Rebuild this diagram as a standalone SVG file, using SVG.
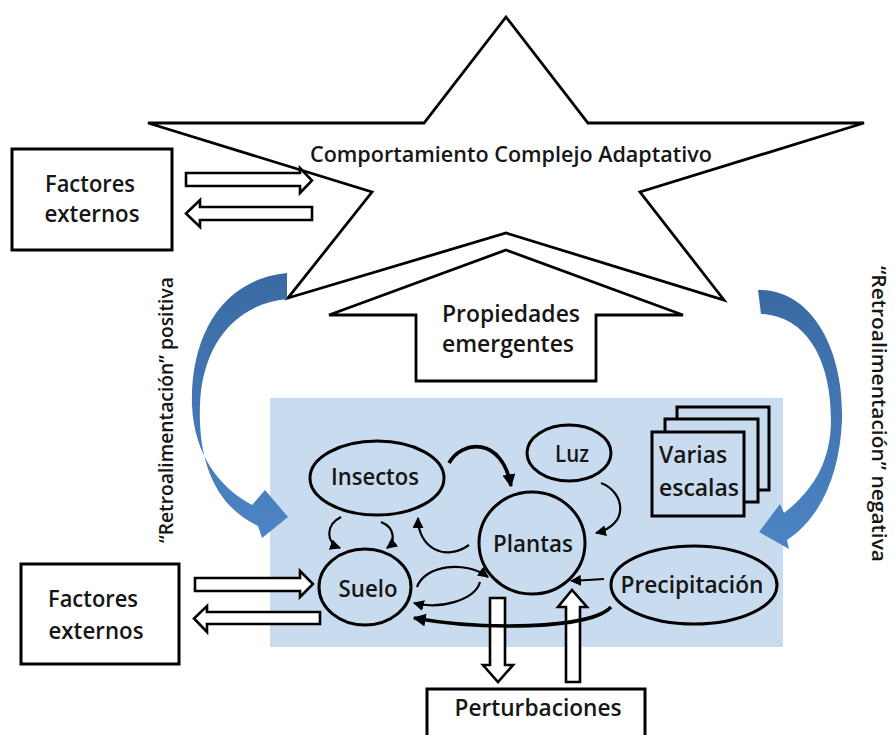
<svg xmlns="http://www.w3.org/2000/svg" width="894" height="735" viewBox="0 0 894 735">
<defs>
<style>
.t{font-family:"Open Sans",Lato,"Liberation Sans",sans-serif;font-weight:600;fill:#161616;}
.ln{fill:none;stroke:#000;stroke-width:2.8;}
.box{fill:#fff;stroke:#000;stroke-width:3;}
.hol{fill:#fff;stroke:#000;stroke-width:2.6;stroke-linejoin:miter;}
.nd{fill:#c9dbee;stroke:#000;stroke-width:3;}
.cv{fill:none;stroke:#000;stroke-width:2.2;}
.cvb{fill:none;stroke:#000;stroke-width:3.6;}
</style>
<marker id="ah" viewBox="0 0 10 10" refX="9" refY="5" markerWidth="11" markerHeight="11" markerUnits="userSpaceOnUse" orient="auto">
<path d="M0,0 L10,5 L0,10 Z" fill="#000"/>
</marker>
<marker id="ahb" viewBox="0 0 10 10" refX="9" refY="5" markerWidth="13" markerHeight="13" markerUnits="userSpaceOnUse" orient="auto">
<path d="M0,0 L10,5 L0,10 Z" fill="#000"/>
</marker>
<linearGradient id="bg" x1="0" y1="0" x2="0" y2="1">
<stop offset="0" stop-color="#3a6aa2"/>
<stop offset="1" stop-color="#4c84c5"/>
</linearGradient>
</defs>
<rect width="894" height="735" fill="#fff"/>

<g id="star">
<polygon class="ln" points="506,17 588,123 864,123 640,192 724,300 506,233 288,298 372,192 148,123 424,123"/>
<text class="t" x="511" y="162" font-size="21" text-anchor="middle" textLength="402" lengthAdjust="spacingAndGlyphs">Comportamiento Complejo Adaptativo</text>
</g>

<g id="propiedades">
<polygon class="ln" points="506,250 683,315 596,315 596,381 416,381 416,315 329,315"/>
<text class="t" x="511" y="322" font-size="23" text-anchor="middle" textLength="138" lengthAdjust="spacingAndGlyphs">Propiedades</text>
<text class="t" x="508" y="352" font-size="23" text-anchor="middle" textLength="132" lengthAdjust="spacingAndGlyphs">emergentes</text>
</g>

<g id="factores-top">
<rect class="box" x="12" y="149" width="160" height="101"/>
<text class="t" x="90" y="192" font-size="23" text-anchor="middle" textLength="90" lengthAdjust="spacingAndGlyphs">Factores</text>
<text class="t" x="92" y="222" font-size="23" text-anchor="middle" textLength="95" lengthAdjust="spacingAndGlyphs">externos</text>
</g>

<g id="factores-bottom">
<rect class="box" x="21" y="564" width="158" height="100"/>
<text class="t" x="93" y="607" font-size="23" text-anchor="middle" textLength="90" lengthAdjust="spacingAndGlyphs">Factores</text>
<text class="t" x="96" y="639" font-size="23" text-anchor="middle" textLength="95" lengthAdjust="spacingAndGlyphs">externos</text>
</g>

<g id="sistema">
<rect x="270" y="398" width="513" height="249" fill="#c9dbee"/>
</g>

<g id="retro-positiva">
<path fill="url(#bg)" d="M287,273 C223,279 190,335 192,405 C194,455 220,488 252,505 L265,490 L288,517 L262,538 L258,526 C214,505 198,460 200,405 C202,345 235,304 287,299 Z"/>
<text class="t" transform="translate(173,410) rotate(-90)" font-size="19" font-weight="400" text-anchor="middle" textLength="266" lengthAdjust="spacingAndGlyphs">“Retroalimentación” positiva</text>
</g>

<g id="retro-negativa">
<path fill="url(#bg)" d="M758,290 C812,289 844,350 842,420 C840,472 822,517 787,540 L789,549 L759,532 L780,504 L784,513 C814,490 831,460 831,420 C831,357 805,316 761,314 Z"/>
<text class="t" transform="translate(872,414) rotate(90)" font-size="20" text-anchor="middle" textLength="296" lengthAdjust="spacingAndGlyphs">“Retroalimentación” negativa</text>
</g>

<g id="insectos">
<ellipse class="nd" cx="377" cy="478" rx="67" ry="37"/>
<text class="t" x="375" y="485" font-size="23" text-anchor="middle" textLength="88" lengthAdjust="spacingAndGlyphs">Insectos</text>
</g>
<g id="luz">
<ellipse class="nd" cx="569" cy="453" rx="42" ry="28"/>
<text class="t" x="572" y="462" font-size="23" text-anchor="middle" textLength="34" lengthAdjust="spacingAndGlyphs">Luz</text>
</g>
<g id="plantas">
<ellipse class="nd" cx="532" cy="543" rx="53" ry="51"/>
<text class="t" x="533" y="552" font-size="23" text-anchor="middle" textLength="80" lengthAdjust="spacingAndGlyphs">Plantas</text>
</g>
<g id="suelo">
<ellipse class="nd" cx="365" cy="587" rx="46" ry="38"/>
<text class="t" x="368" y="597" font-size="23" text-anchor="middle" textLength="59" lengthAdjust="spacingAndGlyphs">Suelo</text>
</g>
<g id="precipitacion">
<ellipse class="nd" cx="694" cy="585" rx="83" ry="39"/>
<text class="t" x="692" y="593" font-size="23" text-anchor="middle" textLength="143" lengthAdjust="spacingAndGlyphs">Precipitación</text>
</g>
<g id="varias-escalas">
<rect class="nd" x="677" y="407" width="92" height="83"/>
<rect class="nd" x="665" y="419" width="93" height="83"/>
<rect class="nd" x="652" y="432" width="92" height="84"/>
<text class="t" x="659" y="463" font-size="23" textLength="68" lengthAdjust="spacingAndGlyphs">Varias</text>
<text class="t" x="659" y="496" font-size="23" textLength="80" lengthAdjust="spacingAndGlyphs">escalas</text>
</g>

<g id="perturbaciones">
<rect class="box" x="427" y="689" width="218" height="60"/>
<text class="t" x="538" y="716" font-size="23" text-anchor="middle" textLength="167" lengthAdjust="spacingAndGlyphs">Perturbaciones</text>
</g>

<g id="connectors">
<polygon class="hol" points="186,173 300,173 300,168 312,180.5 300,193 300,186 186,186"/>
<polygon class="hol" points="312,207 200,207 200,200 186,213.5 200,227 200,220 312,220"/>
<polygon class="hol" points="195,578 300,578 300,571 313,584 300,597 300,591 195,591"/>
<polygon class="hol" points="320,612 207,612 207,606 194,618.5 207,632 207,624 320,624"/>
<polygon class="hol" points="490,598 505,598 505,665 513,665 498,682 483,665 490,665"/>
<polygon class="hol" points="566,682 580,682 580,607 587,607 572,590 558,607 566,607"/>
<path class="cvb" marker-end="url(#ahb)" d="M449,463 C462,440 502,436 511,486"/>
<path class="cv" marker-end="url(#ah)" d="M601,483 C625,492 630,525 596,533"/>
<path class="cv" marker-end="url(#ah)" d="M469,545 C445,562 418,548 418,518"/>
<path class="cv" marker-end="url(#ah)" d="M341,517 C325,525 326,543 340,548"/>
<path class="cv" marker-end="url(#ah)" d="M381,522 C396,528 395,542 387,548"/>
<path class="cv" marker-end="url(#ah)" d="M417,587 C425,565 465,560 488,577"/>
<path class="cv" marker-end="url(#ah)" d="M480,582 C475,600 440,610 414,603"/>
<path class="cv" marker-end="url(#ah)" d="M604,579 L571,581"/>
<path class="cvb" marker-end="url(#ahb)" d="M611,607 C590,630 480,630 414,618"/>
</g>
</svg>
